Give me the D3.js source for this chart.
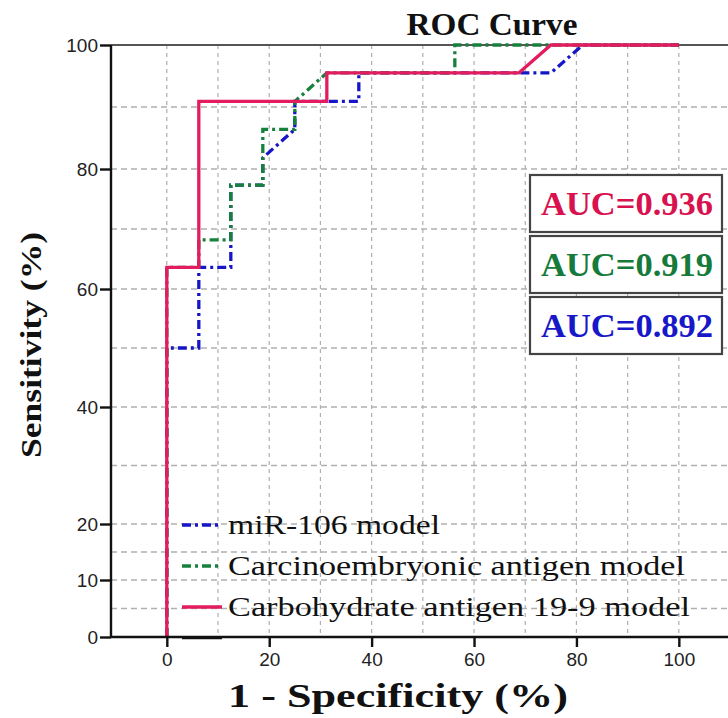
<!DOCTYPE html>
<html>
<head>
<meta charset="utf-8">
<script src="https://cdn.jsdelivr.net/npm/d3@7"></script>
<style>
  html, body { margin: 0; padding: 0; background: #fff; }
  svg { display: block; }
</style>
</head>
<body>
<svg id="chart" width="728" height="718"></svg>
<script>
// ---------- data ----------
const seriesNames = ["miR-106 model", "Carcinoembryonic antigen model", "Carbohydrate antigen 19-9 model"];
const aucLabels = ["AUC=0.936", "AUC=0.919", "AUC=0.892"];

const mirX = [0, 0, 6.25, 6.25, 12.5, 12.5, 18.75, 18.75, 25, 25, 37.5, 37.5, 75, 81.25, 100];
const mirY = [0, 50, 50, 63.6, 63.6, 77.3, 77.3, 81.8, 86.4, 90.9, 90.9, 95.5, 95.5, 100, 100];

const ceaX = [0, 0, 6.25, 6.25, 12.5, 12.5, 18.75, 18.75, 25, 25, 31.25, 56.25, 56.25, 100];
const ceaY = [0, 63.6, 63.6, 68.2, 68.2, 77.3, 77.3, 86.4, 86.4, 90.9, 95.5, 95.5, 100, 100];

const caX = [0, 0, 6.25, 6.25, 31.25, 31.25, 68.75, 75, 100];
const caY = [0, 63.6, 63.6, 90.9, 90.9, 95.5, 95.5, 100, 100];

const xTicks = [0, 20, 40, 60, 80, 100];
const yTicks = [0, 10, 20, 40, 60, 80, 100];
const xGrid = [0, 10, 20, 30, 40, 50, 60, 70, 80, 90, 100];
const yGrid = [5, 10, 15, 20, 30, 40, 50, 60, 70, 80, 90];

// ---------- layout ----------
const svg = d3.select("#chart");
const pLeft = 111, pRight = 728, pTop = 45, pBottom = 637;

const x = d3.scaleLinear().domain([-10.9, 109.6]).range([pLeft, pRight]);
const y = d3.scaleLinear().domain([0, 10, 20, 40, 60, 80, 100]).range([637, 580, 524, 407, 289, 169, 45]);

const colors = { mir: "#1616c8", cea: "#17803c", ca: "#e21c5e" };
const textColors = ["#d8114f", "#157a3a", "#1818c8"];
const serif = "'Liberation Serif', 'Times New Roman', serif";
const sans = "'Liberation Sans', Arial, sans-serif";

// gridlines
svg.append("g").selectAll("line").data(yGrid).join("line")
  .attr("x1", pLeft).attr("x2", pRight)
  .attr("y1", d => y(d)).attr("y2", d => y(d))
  .attr("stroke", "#b0b0b0").attr("stroke-width", 1.3).attr("stroke-dasharray", "6,4");
svg.append("g").selectAll("line").data(xGrid).join("line")
  .attr("x1", d => x(d)).attr("x2", d => x(d))
  .attr("y1", pTop).attr("y2", pBottom)
  .attr("stroke", "#b0b0b0").attr("stroke-width", 1.2).attr("stroke-dasharray", "4,4");

// top frame line
svg.append("line").attr("x1", pLeft).attr("x2", pRight).attr("y1", pTop).attr("y2", pTop)
  .attr("stroke", "#555").attr("stroke-width", 2.2);

// curves
const line = d3.line().x(d => x(d[0])).y(d => y(d[1]));
const zip = (a, b) => a.map((v, i) => [v, b[i]]);

svg.append("path").datum(zip(mirX, mirY)).attr("d", line)
  .attr("fill", "none").attr("stroke", colors.mir).attr("stroke-width", 3.3)
  .attr("stroke-dasharray", "9,4,3,4");
svg.append("path").datum(zip(ceaX, ceaY)).attr("d", line)
  .attr("fill", "none").attr("stroke", colors.cea).attr("stroke-width", 3.3)
  .attr("stroke-dasharray", "9,4,3,4");
svg.append("path").datum(zip(caX, caY)).attr("d", line)
  .attr("fill", "none").attr("stroke", colors.ca).attr("stroke-width", 3.3);

// axes
const yAxis = d3.axisLeft(y).tickValues(yTicks).tickSize(11).tickPadding(2).tickFormat(d3.format("d"));
const gy = svg.append("g").attr("transform", `translate(${pLeft},0)`).call(yAxis);
gy.select(".domain").attr("stroke", "#111").attr("stroke-width", 2.4).attr("d", `M0,${pTop}V${pBottom}`);
gy.selectAll(".tick line").attr("stroke", "#111").attr("stroke-width", 2.4);
gy.selectAll(".tick text").attr("font-family", sans).attr("font-size", 19).attr("fill", "#222");

const xAxis = d3.axisBottom(x).tickValues(xTicks).tickSize(10).tickPadding(6).tickFormat(d3.format("d"));
const gx = svg.append("g").attr("transform", `translate(0,${pBottom})`).call(xAxis);
gx.select(".domain").attr("stroke", "#111").attr("stroke-width", 2.4).attr("d", `M${pLeft},0H${pRight}`);
gx.selectAll(".tick line").attr("stroke", "#111").attr("stroke-width", 2.4);
gx.selectAll(".tick text").attr("font-family", sans).attr("font-size", 19).attr("fill", "#222");

// title and axis labels
svg.append("text").attr("x", 492).attr("y", 35).attr("text-anchor", "middle")
  .attr("font-family", serif).attr("font-weight", "bold").attr("font-size", 32)
  .attr("textLength", 171).attr("lengthAdjust", "spacingAndGlyphs")
  .attr("fill", "#111").text("ROC Curve");

svg.append("text").attr("x", 398).attr("y", 707).attr("text-anchor", "middle")
  .attr("font-family", serif).attr("font-weight", "bold").attr("font-size", 33)
  .attr("textLength", 340).attr("lengthAdjust", "spacingAndGlyphs")
  .attr("fill", "#111").text("1 - Specificity (%)");

svg.append("text").attr("transform", "translate(41,345) rotate(-90)").attr("text-anchor", "middle")
  .attr("font-family", serif).attr("font-weight", "bold").attr("font-size", 30)
  .attr("textLength", 226).attr("lengthAdjust", "spacingAndGlyphs")
  .attr("fill", "#111").text("Sensitivity (%)");

// AUC boxes
const boxY = [175, 236, 297];
aucLabels.forEach((lab, i) => {
  svg.append("rect").attr("x", 530).attr("y", boxY[i]).attr("width", 192).attr("height", 57)
    .attr("fill", "#fff").attr("stroke", "#444").attr("stroke-width", 2.2);
  svg.append("text").attr("x", 627).attr("y", boxY[i] + 40).attr("text-anchor", "middle")
    .attr("font-family", serif).attr("font-weight", "bold").attr("font-size", 33)
    .attr("textLength", 172).attr("lengthAdjust", "spacingAndGlyphs")
    .attr("fill", textColors[i]).text(lab);
});

// legend
const legY = [525, 566, 607];
const legW = [212, 457, 462];
const legStyles = [
  { c: colors.mir, dash: "9,4,3,4" },
  { c: colors.cea, dash: "9,4,3,4" },
  { c: colors.ca, dash: null }
];
seriesNames.forEach((name, i) => {
  const s = svg.append("line").attr("x1", 182).attr("x2", 222).attr("y1", legY[i]).attr("y2", legY[i])
    .attr("stroke", legStyles[i].c).attr("stroke-width", 3.3);
  if (legStyles[i].dash) s.attr("stroke-dasharray", legStyles[i].dash);
  svg.append("text").attr("x", 228).attr("y", legY[i] + 9)
    .attr("font-family", serif).attr("font-size", 28)
    .attr("textLength", legW[i]).attr("lengthAdjust", "spacingAndGlyphs")
    .attr("fill", "#111").text(name);
});
svg.append("line").attr("x1", 182).attr("x2", 222).attr("y1", 638).attr("y2", 638)
  .attr("stroke", "#111").attr("stroke-width", 2.4);
</script>
</body>
</html>
